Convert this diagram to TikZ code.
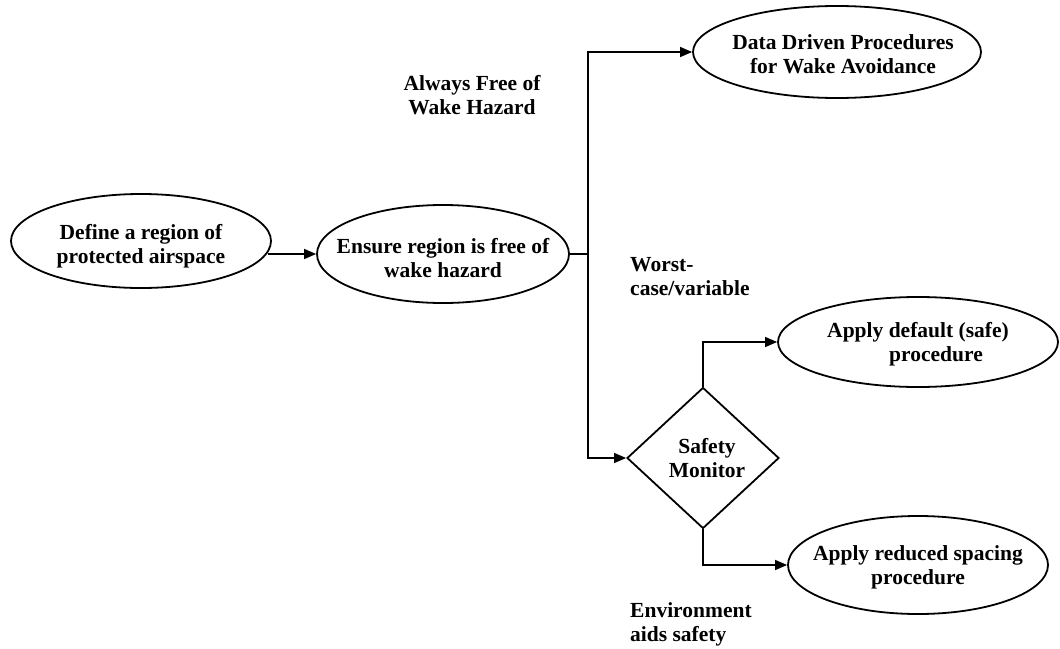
\documentclass[tikz,border=0pt]{standalone}
\usepackage{fontspec}
\setmainfont{Liberation Serif}
\usetikzlibrary{shapes.geometric,arrows.meta}
\begin{document}
\begin{tikzpicture}[x=1pt,y=-1pt,
  txt/.style={font=\bfseries\fontsize{21.5}{24}\selectfont, align=center, inner sep=0pt},
  ell/.style={ellipse, draw, line width=1.8pt, inner sep=0pt},
  dia/.style={diamond, draw, line width=1.8pt, inner sep=0pt},
  conn/.style={line width=1.4pt},
  arr/.style={conn, -{Triangle[length=12pt,width=10pt]}}]
\useasboundingbox (0,0) rectangle (1060,648);

% process ellipses
\node[ell, minimum width=260, minimum height=94,
  label={[txt,yshift=-5pt]center:Define a region of\\protected airspace}] (e1) at (141,241) {};
\node[ell, minimum width=252, minimum height=98,
  label={[txt,yshift=-4pt]center:Ensure region is free of\\wake hazard}] (e2) at (443,254) {};
\node[ell, minimum width=288, minimum height=92,
  label={[txt,yshift=-2pt,xshift=6pt]center:Data Driven Procedures\\for Wake Avoidance}] (e3) at (837,52) {};
\node[ell, minimum width=280, minimum height=90,
  label={[txt,yshift=-2pt]center:Apply default (safe)\\\hspace*{36pt}procedure}] (e4) at (918,342) {};
\node[ell, minimum width=260, minimum height=98,
  label={[txt,yshift=-2pt]center:Apply reduced spacing\\procedure}] (e5) at (918,565) {};

% decision
\node[dia, minimum width=152, minimum height=141,
  label={[txt,xshift=4pt]center:Safety\\Monitor}] (dm) at (703,458) {};

% branch labels
\node[txt] (lfree) at (472,95) {Always Free of\\Wake Hazard};
\node[txt, anchor=west, align=left] (lworst) at (630,277) {Worst-\\case/variable};
\node[txt, anchor=west, align=left] (lenv) at (630,624) {Environment\\aids safety};

% connectors
\draw[arr] (e1.-5.5 |- e2.west) -- (e2.west);
\draw[conn] (e2.east) -- ++(18,0) coordinate (fork);
\draw[arr] (fork) |- (e3.west);
\draw[arr] (fork) |- (dm.west);
\draw[arr] (dm.north) |- (e4.west);
\draw[arr] (dm.south) |- (e5.west);
\end{tikzpicture}
\end{document}
